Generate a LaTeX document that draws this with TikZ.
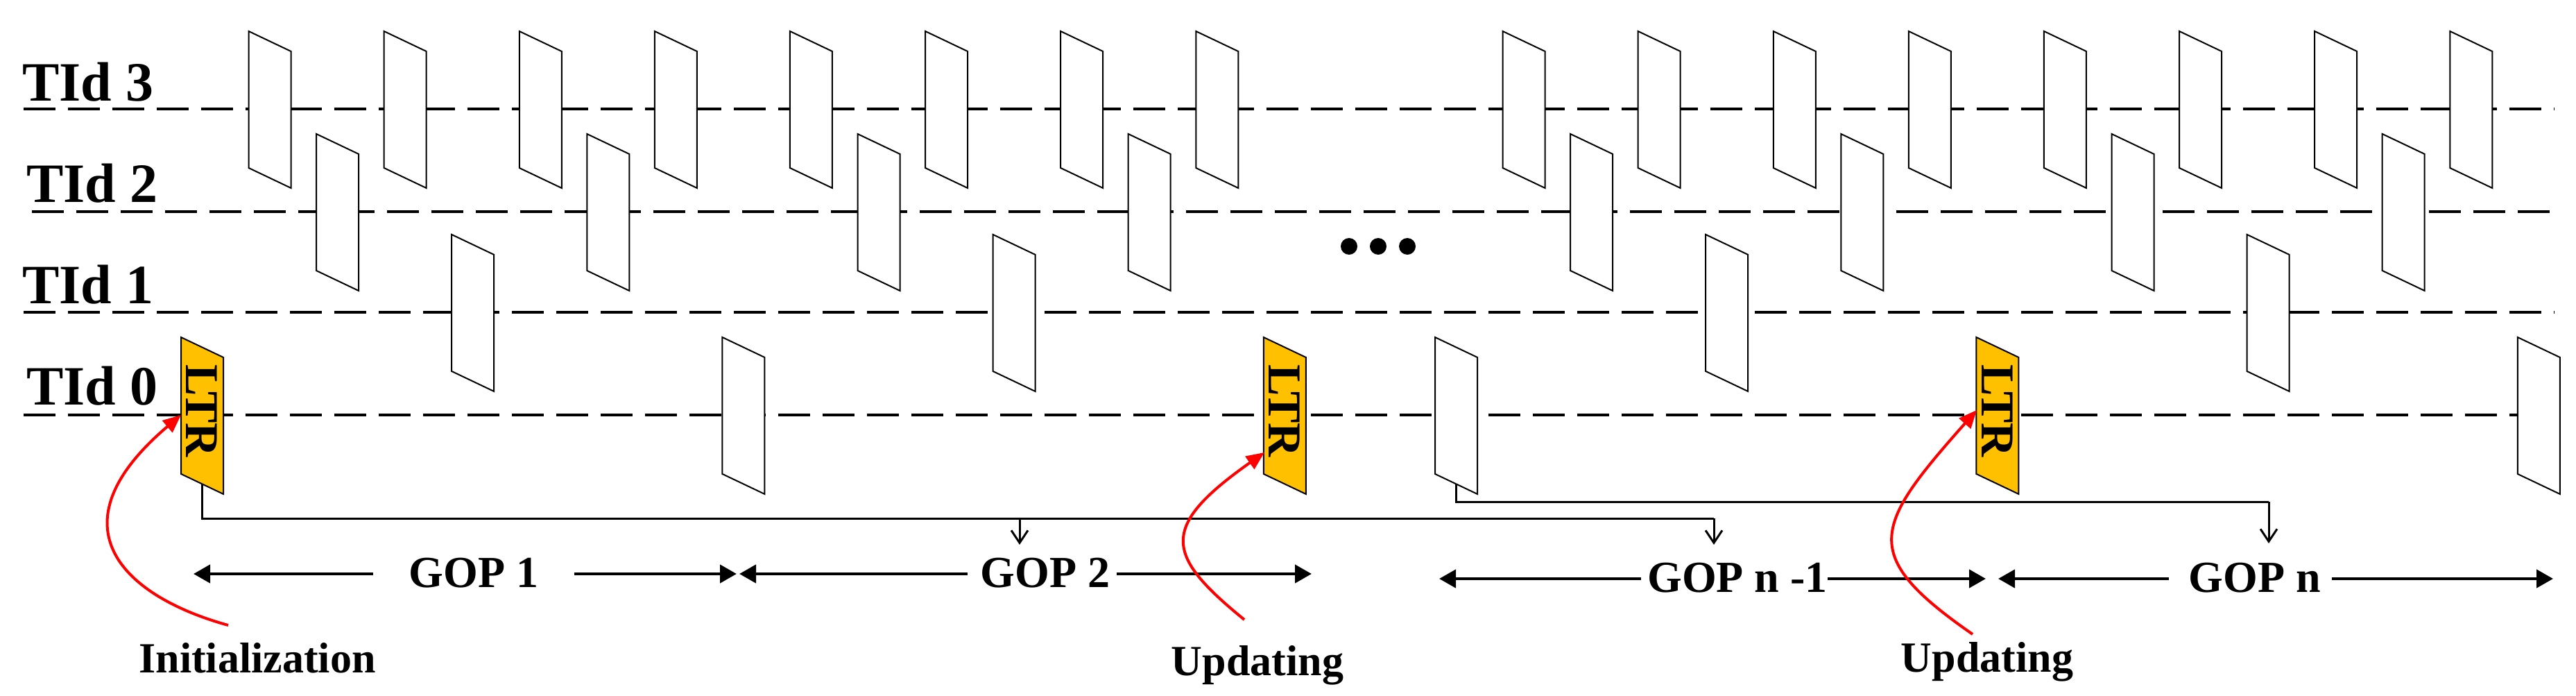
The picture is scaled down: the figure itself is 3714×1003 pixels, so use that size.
\documentclass[tikz,border=0pt]{standalone}
\usepackage{fontspec}
\setmainfont{Liberation Serif}
\usetikzlibrary{arrows.meta}
\definecolor{ltrcol}{HTML}{FFC000}
\tikzset{
  lvl/.style={line width=4pt, dash pattern=on 46pt off 18pt},
  frm/.style={draw=black, line width=2pt, fill=white, line join=miter},
  ltrfrm/.style={frm, fill=ltrcol},
  tid/.style={font=\fontsize{80}{90}\selectfont\bfseries, anchor=base west, inner sep=0pt},
  lab/.style={font=\fontsize{62}{70}\selectfont\bfseries, anchor=base, inner sep=0pt},
  gop/.style={font=\fontsize{64}{72}\selectfont\bfseries, anchor=base, inner sep=0pt},
  gopar/.style={line width=4.5pt, -{Triangle[length=24pt,width=26pt]}},
  conn/.style={line width=3pt},
  connar/.style={line width=3pt, -{Straight Barb[length=18pt,width=24pt]}},
  redar/.style={draw=red, line width=4pt, -{Triangle[length=26pt,width=22pt]}},
}
\begin{document}
\begin{tikzpicture}[x=1pt,y=-1pt]
\useasboundingbox (0,0) rectangle (3714,1003);
% level lines
\draw[lvl] (34,157) -- (3683,157);
\draw[lvl] (46,305) -- (3683,305);
\draw[lvl] (34,450) -- (3683,450);
\draw[lvl] (34,598) -- (3683,598);
\node[tid] (t3) at (32,146) {TId 3};
\node[tid] (t2) at (38,291) {TId 2};
\node[tid] (t1) at (32,437) {TId 1};
\node[tid] (t0) at (38,583) {TId 0};
% frames
\foreach \g/\xs/\la/\lb in {A/261/1/0, B/2069/0/1}{
  \foreach \k/\l/\f in {0/0/\la,1/3/0,2/2/0,3/3/0,4/1/0,5/3/0,6/2/0,7/3/0,8/0/\lb,9/3/0,10/2/0,11/3/0,12/1/0,13/3/0,14/2/0,15/3/0,16/0/\la}{
    \pgfmathsetmacro{\xx}{\xs+97.55*\k}
    \ifcase\l \def\yy{598}\or \def\yy{450}\or \def\yy{305}\else \def\yy{157}\fi
    \ifnum\f=1
      \draw[ltrfrm] (\xx,\yy-112) -- (\xx+61,\yy-83) -- (\xx+61,\yy+114) -- (\xx,\yy+85) -- cycle;
      \node[rotate=-90, font=\fontsize{68}{70}\selectfont\bfseries, inner sep=0pt] (ltr\g\k) at (\xx+30,\yy-6) {LTR};
    \else
      \draw[frm] (\xx,\yy-112) -- (\xx+61,\yy-83) -- (\xx+61,\yy+114) -- (\xx,\yy+85) -- cycle;
    \fi
    \coordinate (f\g\k) at (\xx+30,\yy+99);
    \coordinate (tip\g\k) at (\xx,\yy);
  }
}
% dots
\foreach \i/\x in {1/1945,2/1987,3/2029}{
  \fill (\x,355) ellipse (12 and 12);
}
% connectors
\coordinate (c1) at (291,747);
\coordinate (c2) at (1470,747);
\coordinate (c3) at (2471,747);
\coordinate (d2) at (1470,785);
\coordinate (d3) at (2471,785);
\draw[conn] (fA0) -- (c1) -- (c3);
\draw[connar] (c2) -- (d2);
\draw[connar] (c3) -- (d3);
\coordinate (e1) at (2099,723);
\coordinate (e2) at (3271,723);
\coordinate (e3) at (3271,783);
\draw[conn] (fB0) -- (e1) -- (e2);
\draw[connar] (e2) -- (e3);
% GOP labels and arrows
\node[gop] (g1) at (683,846) {GOP 1};
\node[gop] (g2) at (1507,846) {GOP 2};
\node[gop] (gn1) at (2505,853) {GOP n -1};
\node[gop] (gn) at (3251,853) {GOP n};
\coordinate (a1l) at (279,827); \coordinate (a1r) at (1062,827);
\coordinate (a2l) at (1066,827); \coordinate (a2r) at (1891,827);
\coordinate (a3l) at (2075,834); \coordinate (a3r) at (2863,834);
\coordinate (a4l) at (2881,834); \coordinate (a4r) at (3681,834);
\draw[gopar] (538,827) -- (a1l); \draw[gopar] (828,827) -- (a1r);
\draw[gopar] (1395,827) -- (a2l); \draw[gopar] (1610,827) -- (a2r);
\draw[gopar] (2366,834) -- (a3l); \draw[gopar] (2635,834) -- (a3r);
\draw[gopar] (3127,834) -- (a4l); \draw[gopar] (3362,834) -- (a4r);
% red arrows and labels
\node[lab] (init) at (371,969) {Initialization};
\node[lab] (upd1) at (1813,973) {Updating};
\node[lab] (upd2) at (2865,968) {Updating};
\coordinate (r1s) at (329,901);
\coordinate (r2s) at (1794,893);
\coordinate (r3s) at (2844,914);
\draw[redar] (r1s) .. controls (180,860) and (70,760) .. (tipA0);
\draw[redar] (r2s) .. controls (1680,800) and (1670,760) .. (1823,652);
\draw[redar] (r3s) .. controls (2680,800) and (2700,760) .. (2850,591);
\end{tikzpicture}
\end{document}
